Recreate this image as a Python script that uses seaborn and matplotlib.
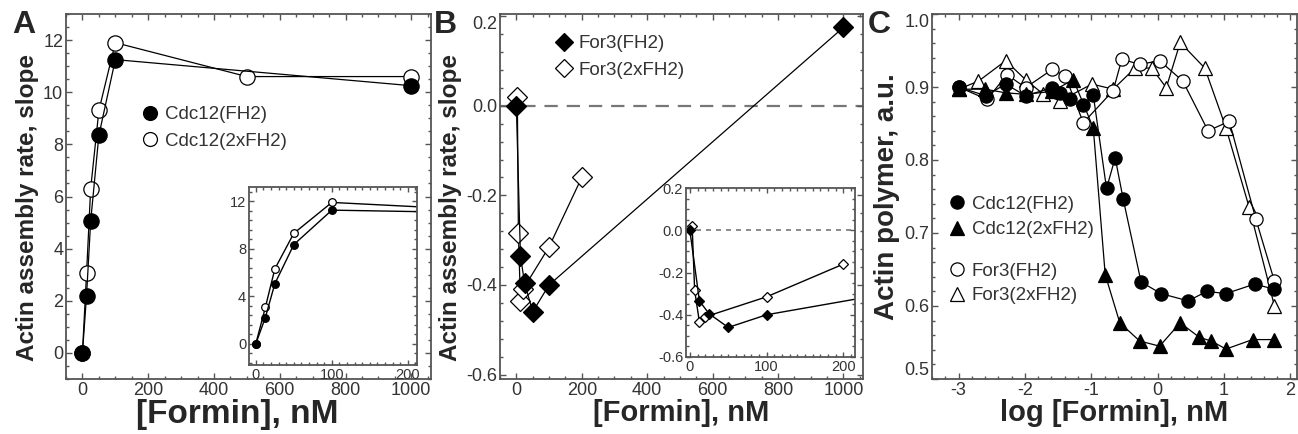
import numpy as np
import matplotlib
matplotlib.use('Agg')
import matplotlib.pyplot as plt
from matplotlib.lines import Line2D
from matplotlib.ticker import MultipleLocator, AutoMinorLocator, FormatStrFormatter
import seaborn as sns

# ---- data ----
# panel A: Cdc12 constructs, linear formin axis
a_fh2_x = [0, 12.5, 25, 50, 100, 1000]
a_fh2_y = [0.0, 2.2, 5.05, 8.35, 11.25, 10.25]
a_2x_x = [0, 12.5, 25, 50, 100, 500, 1000]
a_2x_y = [0.0, 3.05, 6.3, 9.3, 11.9, 10.6, 10.6]

# panel B: For3 constructs
b_fh2_x = [0, 12.5, 25, 50, 100, 1000]
b_fh2_y = [0.0, -0.335, -0.395, -0.46, -0.40, 0.175]
b_2x_x = [3, 6.25, 12.5, 20, 100, 200]
b_2x_y = [0.02, -0.285, -0.435, -0.41, -0.315, -0.16]

# panel C: log [formin]
c_cdc_fh2_x = [-3.0, -2.59, -2.29, -1.99, -1.59, -1.47, -1.32, -1.12, -0.97, -0.77,
               -0.64, -0.52, -0.25, 0.05, 0.46, 0.74, 1.03, 1.46, 1.76]
c_cdc_fh2_y = [0.900, 0.888, 0.904, 0.888, 0.899, 0.892, 0.883, 0.875, 0.889, 0.761,
               0.803, 0.747, 0.633, 0.617, 0.607, 0.620, 0.617, 0.630, 0.623]
c_cdc_2x_x = [-3.0, -2.6, -2.29, -1.99, -1.59, -1.27, -0.97, -0.79, -0.57, -0.27,
              0.03, 0.34, 0.63, 0.81, 1.03, 1.43, 1.76]
c_cdc_2x_y = [0.897, 0.897, 0.892, 0.890, 0.894, 0.910, 0.844, 0.643, 0.577, 0.552,
              0.545, 0.577, 0.557, 0.552, 0.541, 0.554, 0.554]
c_for_fh2_x = [-3.0, -2.57, -2.27, -1.99, -1.59, -1.39, -1.12, -0.67, -0.54, -0.27,
               0.03, 0.38, 0.76, 1.08, 1.48, 1.76]
c_for_fh2_y = [0.900, 0.883, 0.917, 0.899, 0.924, 0.915, 0.851, 0.895, 0.938, 0.931,
               0.936, 0.908, 0.840, 0.853, 0.719, 0.634]
c_for_2x_x = [-3.0, -2.7, -2.29, -1.99, -1.72, -1.47, -0.99, -0.67, -0.34, -0.09,
              0.13, 0.34, 0.71, 1.03, 1.38, 1.76]
c_for_2x_y = [0.897, 0.908, 0.936, 0.910, 0.890, 0.881, 0.904, 0.897, 0.926, 0.926,
              0.899, 0.961, 0.926, 0.844, 0.735, 0.600]

sns.set_theme(style='ticks')
plt.rcParams['font.family'] = ['Liberation Sans', 'DejaVu Sans']
plt.rcParams['axes.unicode_minus'] = False

FRAME = '#555555'
TXT = '#333333'


def style_axes(ax, fs, major=4.5, minor=2.5):
    for sp in ax.spines.values():
        sp.set_color(FRAME)
        sp.set_linewidth(1.3)
    ax.tick_params(which='both', direction='in', top=True, right=True,
                   color=FRAME, width=1.0, labelsize=fs, labelcolor=TXT, pad=2)
    ax.tick_params(which='major', length=major)
    ax.tick_params(which='minor', length=minor)


def draw(ax, x, y, marker, filled, ms, lw=0.9):
    sns.lineplot(x=x, y=y, ax=ax, estimator=None, sort=True, color='black',
                 linewidth=lw, marker=marker, markersize=ms,
                 markerfacecolor='black' if filled else 'white',
                 markeredgecolor='black', markeredgewidth=0.9)


def legend(ax, entries, x, y, fs, ms, spacing=0.5):
    handles = [Line2D([], [], linestyle='none', marker=m, markersize=ms,
                      markerfacecolor='black' if f else 'white',
                      markeredgecolor='black', markeredgewidth=0.9)
               for m, f, _ in entries]
    lg = ax.legend(handles, [e[2] for e in entries], loc='upper left',
                   bbox_to_anchor=(x, y), frameon=False, fontsize=fs,
                   borderpad=0, borderaxespad=0, handlelength=0.9,
                   handletextpad=0.35, labelspacing=spacing)
    for t in lg.get_texts():
        t.set_color(TXT)
    return lg


def nudge_edge_labels(ax, top_txt=None, bottom_txt=None):
    # keep the outermost y labels inside the frame height
    for tick in ax.yaxis.get_major_ticks():
        txt = tick.label1.get_text()
        if txt == top_txt:
            tick.label1.set_verticalalignment('top')
        elif txt == bottom_txt:
            tick.label1.set_verticalalignment('bottom')


fig = plt.figure(figsize=(12.98, 4.34), dpi=100)
W, H = 1298, 434


def box(l, t, r, b):
    return [l / W, (H - b) / H, (r - l) / W, (b - t) / H]


# ---------------- panel A ----------------
axA = fig.add_axes(box(66, 14, 431, 379))
draw(axA, a_2x_x, a_2x_y, 'o', False, 11)
draw(axA, a_fh2_x, a_fh2_y, 'o', True, 11)
axA.set_xlim(-50, 1060)
axA.set_ylim(-1, 13)
axA.xaxis.set_major_locator(MultipleLocator(200))
axA.xaxis.set_minor_locator(MultipleLocator(50))
axA.yaxis.set_major_locator(MultipleLocator(2))
axA.yaxis.set_minor_locator(MultipleLocator(0.5))
style_axes(axA, 13)
axA.set_xlabel('[Formin], nM', fontsize=24, fontweight='bold', labelpad=0)
axA.set_ylabel('Actin assembly rate, slope', fontsize=17.5, fontweight='bold', labelpad=3)
axA.xaxis.set_label_coords(0.468, -0.055, transform=axA.transAxes)
axA.yaxis.label.set_y(0.47)
legend(axA, [('o', True, 'Cdc12(FH2)'), ('o', False, 'Cdc12(2xFH2)')], 0.208, 0.747, 13.5, 10)

insA = fig.add_axes(box(249, 187, 417, 365))
draw(insA, a_2x_x, a_2x_y, 'o', False, 5.5, lw=1.0)
draw(insA, a_fh2_x, a_fh2_y, 'o', True, 5.5, lw=1.0)
insA.set_xlim(-9, 212)
insA.set_ylim(-1.8, 13.2)
insA.xaxis.set_major_locator(MultipleLocator(100))
insA.xaxis.set_minor_locator(MultipleLocator(10))
insA.yaxis.set_major_locator(MultipleLocator(4))
insA.yaxis.set_minor_locator(AutoMinorLocator(5))
style_axes(insA, 10.5, major=3.5, minor=2)
insA.set_xlabel('')
insA.set_ylabel('')

# ---------------- panel B ----------------
axB = fig.add_axes(box(500, 14, 863, 379))
axB.axhline(0, color='#777777', linewidth=1.6, dashes=(6, 4), zorder=0)
draw(axB, b_2x_x, b_2x_y, 'D', False, 10.5)
draw(axB, b_fh2_x, b_fh2_y, 'D', True, 10.5)
axB.set_xlim(-50, 1060)
axB.set_ylim(-0.61, 0.205)
axB.xaxis.set_major_locator(MultipleLocator(200))
axB.xaxis.set_minor_locator(MultipleLocator(50))
axB.yaxis.set_major_locator(MultipleLocator(0.2))
axB.yaxis.set_minor_locator(AutoMinorLocator(5))
axB.yaxis.set_major_formatter(FormatStrFormatter('%.1f'))
style_axes(axB, 13)
axB.set_xlabel('[Formin], nM', fontsize=21, fontweight='bold', labelpad=0)
axB.set_ylabel('Actin assembly rate, slope', fontsize=17.5, fontweight='bold', labelpad=3)
axB.yaxis.label.set_y(0.47)
legend(axB, [('D', True, 'For3(FH2)'), ('D', False, 'For3(2xFH2)')], 0.153, 0.942, 13.5, 9)

insB = fig.add_axes(box(686, 188, 855, 357))
insB.axhline(0, color='#777777', linewidth=1.2, dashes=(3, 3), zorder=0)
draw(insB, b_2x_x, b_2x_y, 'D', False, 5, lw=1.0)
draw(insB, b_fh2_x, b_fh2_y, 'D', True, 5, lw=1.0)
insB.set_xlim(-5, 215)
insB.set_ylim(-0.6, 0.2)
insB.xaxis.set_major_locator(MultipleLocator(100))
insB.xaxis.set_minor_locator(MultipleLocator(10))
insB.yaxis.set_major_locator(MultipleLocator(0.2))
insB.yaxis.set_minor_locator(AutoMinorLocator(4))
insB.yaxis.set_major_formatter(FormatStrFormatter('%.1f'))
style_axes(insB, 10.5, major=3.5, minor=2)
insB.set_xlabel('')
insB.set_ylabel('')

# ---------------- panel C ----------------
axC = fig.add_axes(box(932, 14, 1297, 379))
draw(axC, c_for_2x_x, c_for_2x_y, '^', False, 10)
draw(axC, c_for_fh2_x, c_for_fh2_y, 'o', False, 9.5)
draw(axC, c_cdc_2x_x, c_cdc_2x_y, '^', True, 10)
draw(axC, c_cdc_fh2_x, c_cdc_fh2_y, 'o', True, 9.5)
axC.set_xlim(-3.4, 2.1)
axC.set_ylim(0.5, 1.0)
axC.xaxis.set_major_locator(MultipleLocator(1))
axC.xaxis.set_minor_locator(MultipleLocator(0.2))
axC.yaxis.set_major_locator(MultipleLocator(0.1))
axC.yaxis.set_minor_locator(MultipleLocator(0.02))
axC.yaxis.set_major_formatter(FormatStrFormatter('%.1f'))
style_axes(axC, 13)
axC.set_xlabel('log [Formin], nM', fontsize=21, fontweight='bold', labelpad=0)
axC.set_ylabel('Actin polymer, a.u.', fontsize=20, fontweight='bold', labelpad=3)
lg1 = legend(axC, [('o', True, 'Cdc12(FH2)'), ('^', True, 'Cdc12(2xFH2)')],
             0.045, 0.502, 13.5, 9.5, spacing=0.45)
axC.add_artist(lg1)
legend(axC, [('o', False, 'For3(FH2)'), ('^', False, 'For3(2xFH2)')],
       0.045, 0.319, 13.5, 9.5, spacing=0.4)

# panel letters
for lbl, px in [('A', 12), ('B', 434), ('C', 868)]:
    fig.text(px / W, 1 - 10 / H, lbl, fontsize=23, fontweight='bold', va='top', ha='left')

fig.canvas.draw()
nudge_edge_labels(axC, '1.0', '0.5')
nudge_edge_labels(axB, '0.2', None)

fig.savefig('out.png', dpi=100)
